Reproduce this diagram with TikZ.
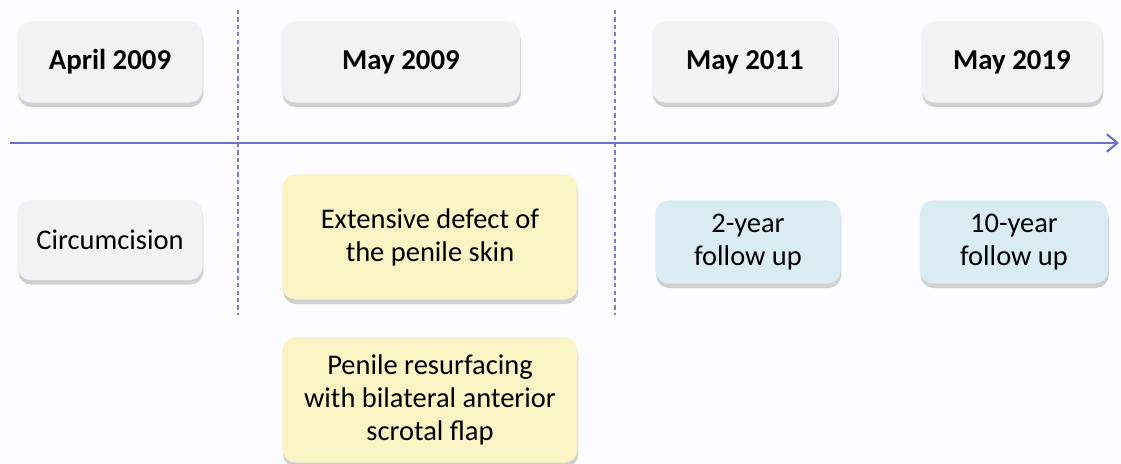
\documentclass[tikz,border=0pt]{standalone}
\usepackage{fontspec}
\setmainfont{Carlito}
\usetikzlibrary{shadows,arrows.meta}

\definecolor{datefill}{HTML}{F2F2F2}
\definecolor{yelfill}{HTML}{FAF3C3}
\definecolor{bluefill}{HTML}{DAECF3}
\definecolor{axis}{HTML}{6F6FC8}

\begin{document}
\begin{tikzpicture}[x=0.01cm,y=-0.01cm,
		box/.style={rounded corners=0.13cm, draw=none, align=center, inner sep=0pt,
			font=\fontsize{8.1}{9.4}\selectfont,
			drop shadow={shadow xshift=0.2pt, shadow yshift=-1.3pt, fill=black!35, opacity=0.5}},
		datebox/.style={box, fill=datefill, minimum height=0.81cm, font=\bfseries\fontsize{8.2}{9.5}\selectfont},
		evbox/.style={box, fill=datefill, minimum width=1.85cm, minimum height=0.8cm},
		surgbox/.style={box, fill=yelfill, minimum width=2.95cm, minimum height=1.25cm},
		fupbox/.style={box, fill=bluefill, minimum height=0.83cm},
		sep/.style={axis!90, dash pattern=on 1.2pt off 0.9pt, line width=0.5pt}]
	\fill[white!99!blue] (0,0) rectangle (1121,464);
	\useasboundingbox (0,0) rectangle (1121,464);
	
	\coordinate (s1) at (238,10);
	\coordinate (t1) at (238,315);
	\coordinate (s2) at (615,10);
	\coordinate (t2) at (615,315);
	\coordinate (ax) at (10,143);
	\coordinate (ay) at (1119,143);
	
	\draw[sep] (s1) -- (t1);
	\draw[sep] (s2) -- (t2);
	\draw[axis, line width=0.6pt, -{Straight Barb[length=3pt,width=5pt]}] (ax) -- (ay);
	
	\node[datebox, minimum width=1.85cm] at (110,62) (d1) {April 2009};
	\node[datebox, minimum width=2.38cm] at (401,62) (d2) {May 2009};
	\node[datebox, minimum width=1.86cm] at (745,62) (d3) {May 2011};
	\node[datebox, minimum width=1.81cm] at (1012,62) (d4) {May 2019};
	
	\node[evbox] at (110,240) (circ) {Circumcision};
	\node[surgbox] at (430,237) (defect) {Extensive defect of\\the penile skin};
	\node[surgbox] at (430,400) (flap) {Penile resurfacing\\with bilateral anterior\\scrotal flap};
	\node[fupbox, minimum width=1.85cm] at (748,242) (f1) {2-year\\follow up};
	\node[fupbox, minimum width=1.88cm] at (1014,242) (f2) {10-year\\follow up};
	
\end{tikzpicture}
\end{document}
